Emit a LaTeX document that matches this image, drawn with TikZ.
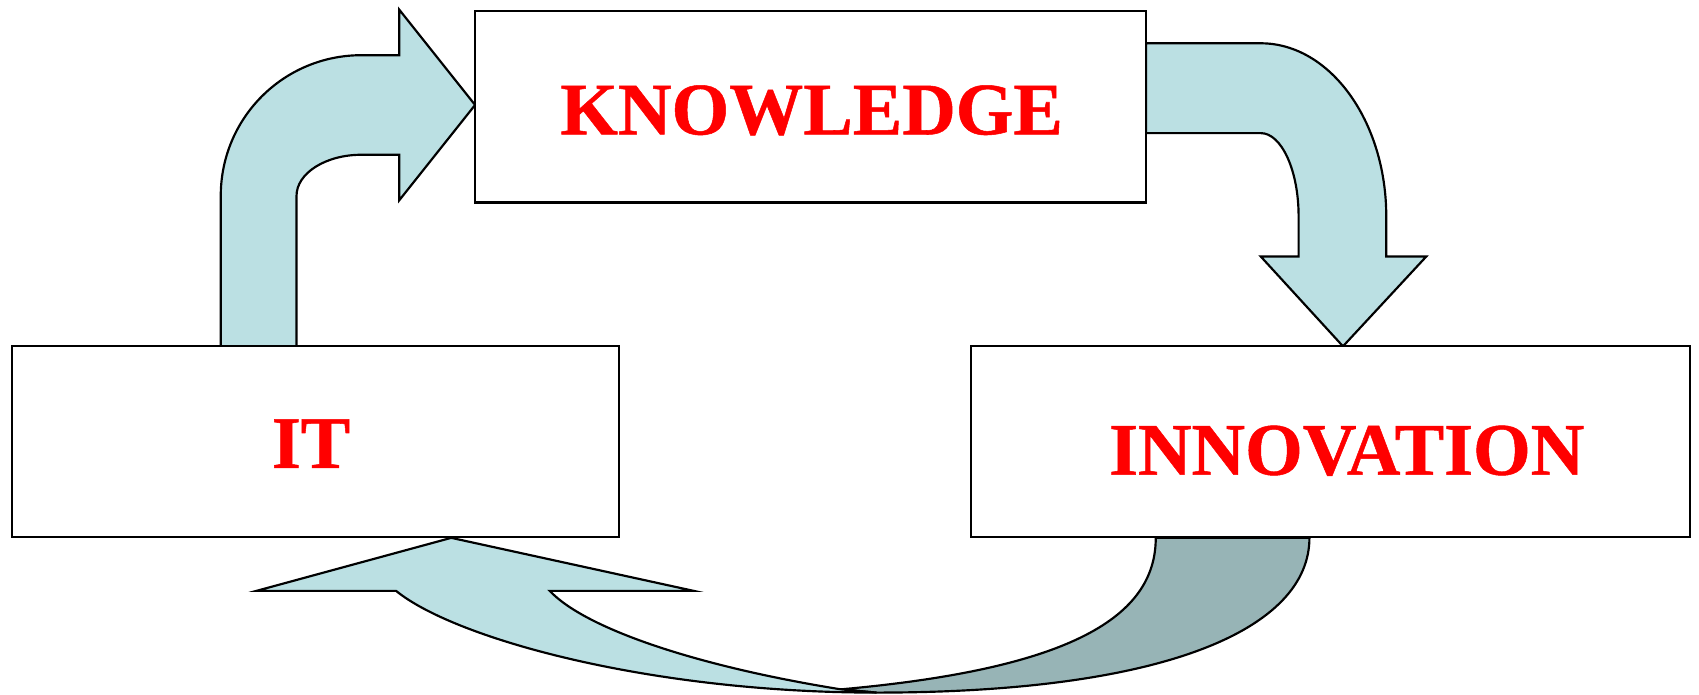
\documentclass[tikz,border=0pt]{standalone}
\usepackage{fontspec}
\setmainfont{Liberation Serif}[BoldFeatures={FakeBold=0.7}]
\definecolor{lightfill}{RGB}{187,224,227}
\definecolor{darkfill}{RGB}{151,180,182}
\definecolor{labelred}{RGB}{255,0,0}
\tikzset{
  box/.style={draw=black, fill=white, line width=2.1pt, inner sep=0pt},
  lbl/.style={text=labelred, inner sep=0pt, font=\bfseries\fontsize{68.5}{68.5}\selectfont},
  blockarrow/.style={draw=black, fill=lightfill, line width=2pt, line join=miter},
  blockback/.style={draw=black, fill=darkfill, line width=2pt, line join=miter}
}
\begin{document}
\begin{tikzpicture}[x=1pt,y=-1pt]
\useasboundingbox (0,0) rectangle (1570,642);

% top-left arrow: IT -> KNOWLEDGE
\draw[blockarrow] (204,320) -- (204,181)
  .. controls (204,109) and (262,51) .. (334,51)
  -- (369,51) -- (369,9) -- (439,97) -- (369,185) -- (369,143) -- (334,143)
  .. controls (301,143) and (274,160) .. (274,181)
  -- (274,320) -- cycle;

% right arrow: KNOWLEDGE -> INNOVATION
\draw[blockarrow] (1059,40) -- (1165,40)
  .. controls (1229,40) and (1281,112) .. (1281,200)
  -- (1281,237) -- (1318,237) -- (1241,320) -- (1165,237) -- (1200,237) -- (1200,200)
  .. controls (1200,157) and (1184,123) .. (1165,123)
  -- (1059,123) -- cycle;

% bottom arrow: INNOVATION -> IT (back part)
\draw[blockback] (1068,497) -- (1210,497)
  .. controls (1210,580) and (1080,640) .. (810,640)
  -- (777,637)
  .. controls (990,618) and (1068,570) .. (1068,497) -- cycle;

% bottom arrow: front part with head
\draw[blockarrow] (417,497) -- (641,546) -- (508,546)
  .. controls (540,580) and (640,615) .. (777,637)
  -- (810,640)
  .. controls (600,640) and (420,590) .. (366,546)
  -- (237,546) -- cycle;

% boxes
\node[box, minimum width=620pt, minimum height=177pt] (know) at (749,98.5) {};
\node[box, minimum width=561pt, minimum height=176pt] (it) at (291.5,408) {};
\node[box, minimum width=664pt, minimum height=176pt] (innov) at (1229.5,408) {};

% labels
\node[lbl] (knowtext) at (750,102) {KNOWLEDGE};
\node[lbl] (ittext) at (287.5,410) {IT};
\node[lbl] (innovtext) at (1244.5,416.5) {INNOVATION};
\end{tikzpicture}
\end{document}
